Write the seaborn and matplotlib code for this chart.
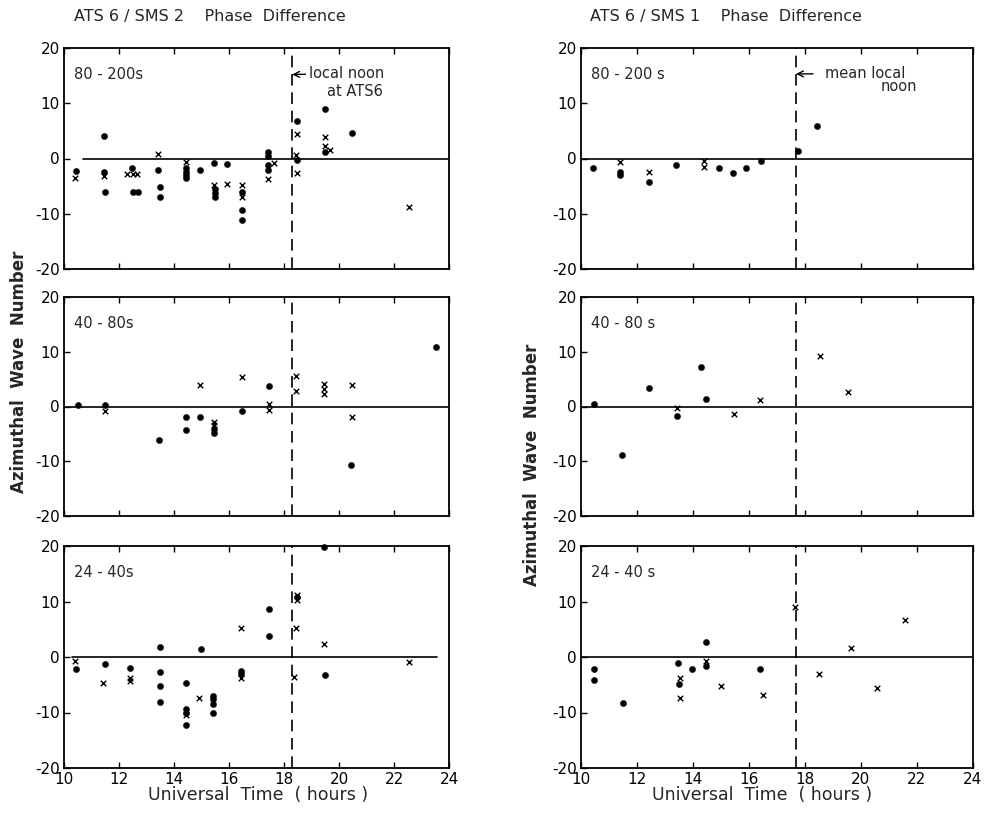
import numpy as np
import pandas as pd
import matplotlib
matplotlib.use("Agg")
import matplotlib.pyplot as plt
import seaborn as sns

# ---------------- data ----------------
# ATS6/SMS2 80-200 s
l1_dot_x = [10.45, 11.45, 11.45, 11.5, 12.46, 12.5, 12.7, 13.43, 13.5, 13.5, 14.45, 14.45, 14.45, 14.45,
            14.95, 15.45, 15.5, 15.5, 15.5, 15.94, 16.48, 16.48, 16.48, 17.43, 17.43, 17.43, 17.43,
            18.46, 18.48, 19.48, 19.48, 20.48]
l1_dot_y = [-2.2, 4.0, -2.4, -6.1, -1.7, -6.0, -6.0, -2.0, -5.1, -7.0, -1.8, -2.4, -3.0, -3.6,
            -2.0, -0.9, -5.5, -6.3, -7.0, -1.0, -6.1, -9.3, -11.1, 1.2, 0.5, -1.1, -2.0,
            6.7, -0.3, 9.0, 1.2, 4.6]
l1_crs_x = [10.4, 11.45, 12.3, 12.5, 12.65, 13.43, 14.42, 15.45, 15.94, 16.46, 16.46, 17.64, 17.43,
            18.46, 18.45, 18.46, 19.48, 19.48, 19.66, 22.55]
l1_crs_y = [-3.5, -3.1, -2.8, -2.8, -2.8, 0.8, -0.6, -4.8, -4.6, -4.8, -7.0, -0.8, -3.7,
            4.4, 0.6, -2.7, 3.9, 2.3, 1.5, -8.7]

# ATS6/SMS2 40-80 s
l2_dot_x = [10.52, 11.49, 13.45, 14.44, 14.44, 14.95, 15.45, 15.45, 16.46, 17.45, 20.45, 23.54]
l2_dot_y = [0.2, 0.2, -6.1, -1.9, -4.3, -2.0, -4.2, -4.8, -0.9, 3.7, -10.7, 10.9]
l2_crs_x = [11.49, 14.95, 15.45, 15.45, 16.46, 17.47, 17.47, 18.45, 18.45, 19.45, 19.45, 19.45, 20.48, 20.48]
l2_crs_y = [-0.9, 3.9, -2.8, -3.4, 5.4, 0.5, -0.7, 5.5, 2.9, 4.1, 3.2, 2.3, 3.9, -1.9]

# ATS6/SMS2 24-40 s
l3_dot_x = [10.45, 11.48, 12.4, 13.48, 13.48, 13.48, 13.48, 14.43, 14.43, 14.43, 14.43, 14.98,
            15.4, 15.4, 15.4, 15.4, 16.45, 16.45, 17.46, 17.46, 18.46, 19.47, 19.5]
l3_dot_y = [-2.1, -1.35, -1.9, 1.75, -2.75, -5.3, -8.1, -4.6, -9.4, -10.0, -12.2, 1.5,
            -7.0, -7.5, -8.5, -10.0, -2.5, -3.0, 8.7, 3.7, 10.8, 19.8, -3.3]
l3_crs_x = [10.4, 11.42, 12.4, 12.4, 14.43, 14.9, 16.45, 16.45, 18.46, 18.46, 18.43, 18.36, 19.47, 22.55]
l3_crs_y = [-0.8, -4.6, -3.7, -4.3, -10.5, -7.4, 5.2, -3.7, 11.2, 10.2, 5.2, -3.6, 2.3, -0.9]

# ATS6/SMS1 80-200 s
r1_dot_x = [10.43, 11.4, 11.4, 12.44, 13.39, 14.93, 15.44, 15.9, 16.43, 17.76, 18.44]
r1_dot_y = [-1.8, -2.4, -2.9, -4.2, -1.2, -1.8, -2.7, -1.8, -0.4, 1.3, 5.8]
r1_crs_x = [11.4, 12.44, 14.38, 14.38]
r1_crs_y = [-0.6, -2.4, -0.4, -1.6]

# ATS6/SMS1 40-80 s
r2_dot_x = [10.45, 11.45, 12.43, 13.43, 14.3, 14.45]
r2_dot_y = [0.4, -8.9, 3.4, -1.7, 7.3, 1.4]
r2_crs_x = [13.43, 15.47, 16.4, 18.52, 19.54]
r2_crs_y = [-0.3, -1.4, 1.1, 9.2, 2.7]

# ATS6/SMS1 24-40 s
r3_dot_x = [10.48, 10.48, 11.5, 13.47, 13.5, 13.95, 14.48, 14.48, 16.41]
r3_dot_y = [-2.1, -4.1, -8.2, -1.0, -4.9, -2.1, 2.7, -1.6, -2.1]
r3_crs_x = [13.53, 13.53, 14.48, 15.0, 16.51, 17.63, 18.49, 19.66, 20.58, 21.57]
r3_crs_y = [-3.7, -7.4, -0.8, -5.3, -6.9, 9.0, -3.0, 1.6, -5.6, 6.7]

panel_labels_left = ["80 - 200s", "40 - 80s", "24 - 40s"]
panel_labels_right = ["80 - 200 s", "40 - 80 s", "24 - 40 s"]
noon_left = 18.3
noon_right = 17.68
x_ticks = [10, 12, 14, 16, 18, 20, 22, 24]
y_ticks = [-20, -10, 0, 10, 20]

# ---------------- styling ----------------
sns.set_style("white")
plt.rcParams["font.family"] = ["DejaVu Sans"]
plt.rcParams["axes.unicode_minus"] = False

fig = plt.figure(figsize=(9.86, 8.16), dpi=100)

W, H = 986.0, 816.0
cols = [(64, 449), (581, 973)]
rows = [(48, 269), (297, 516), (546, 768)]

panels = {
    (0, 0): (l1_dot_x, l1_dot_y, l1_crs_x, l1_crs_y),
    (1, 0): (l2_dot_x, l2_dot_y, l2_crs_x, l2_crs_y),
    (2, 0): (l3_dot_x, l3_dot_y, l3_crs_x, l3_crs_y),
    (0, 1): (r1_dot_x, r1_dot_y, r1_crs_x, r1_crs_y),
    (1, 1): (r2_dot_x, r2_dot_y, r2_crs_x, r2_crs_y),
    (2, 1): (r3_dot_x, r3_dot_y, r3_crs_x, r3_crs_y),
}
zero_extent = {(0, 0): (0.05, 1.0), (1, 0): (0.0, 1.0), (2, 0): (0.02, 0.97),
               (0, 1): (0.0, 1.0), (1, 1): (0.0, 1.0), (2, 1): (0.0, 1.0)}

axes = {}
for (r, c), (dx, dy, cx, cy) in panels.items():
    x0, x1 = cols[c]
    y0, y1 = rows[r]
    ax = fig.add_axes([x0 / W, 1 - y1 / H, (x1 - x0) / W, (y1 - y0) / H])
    axes[(r, c)] = ax
    dots = pd.DataFrame({"t": dx, "m": dy})
    crs = pd.DataFrame({"t": cx, "m": cy})
    sns.scatterplot(data=dots, x="t", y="m", ax=ax, marker="o", s=20, color="black",
                    edgecolor="black", linewidth=0.3, zorder=4, clip_on=False)
    sns.scatterplot(data=crs, x="t", y="m", ax=ax, marker="x", s=16, color="black",
                    linewidth=1.0, zorder=4)
    ax.set_xlim(10, 24)
    ax.set_ylim(-20, 20)
    ax.set_xticks(x_ticks)
    ax.set_yticks(y_ticks)
    ax.set_xlabel("")
    ax.set_ylabel("")
    for sp in ax.spines.values():
        sp.set_color("black")
        sp.set_linewidth(1.3)
    ax.tick_params(axis="x", direction="in", top=True, bottom=True, length=4, width=1,
                   labelsize=11, pad=3, colors="black")
    ax.tick_params(axis="y", direction="in", left=True, right=False, length=4, width=1,
                   labelsize=11, pad=3, colors="black")
    if r < 2:
        ax.set_xticklabels([])
    zx0, zx1 = zero_extent[(r, c)]
    ax.axhline(0, xmin=zx0, xmax=zx1, color="black", lw=1.2, zorder=2)
    noon = noon_left if c == 0 else noon_right
    ax.axvline(noon, color="black", lw=1.2, ls=(0, (7, 4)), zorder=3)
    lab = panel_labels_left[r] if c == 0 else panel_labels_right[r]
    ax.text(0.026, 0.88, lab, transform=ax.transAxes, fontsize=10.5, va="center", ha="left")

# annotations
axL = axes[(0, 0)]
axL.annotate("local noon", xy=(noon_left, 15.2), xytext=(18.9, 15.4), fontsize=10.5,
             va="center", ha="left",
             arrowprops=dict(arrowstyle="->", color="black", lw=1, shrinkA=0, shrinkB=0))
axL.text(19.55, 12.2, "at ATS6", fontsize=10.5, va="center", ha="left")

axR = axes[(0, 1)]
axR.annotate("mean local", xy=(noon_right, 15.3), xytext=(18.7, 15.4), fontsize=10.5,
             va="center", ha="left",
             arrowprops=dict(arrowstyle="->", color="black", lw=1, shrinkA=6, shrinkB=0))
axR.text(21.35, 13.0, "noon", fontsize=10.5, va="center", ha="center")

# titles
fig.text(74 / W, 1 - 16 / H, "ATS 6 / SMS 2    Phase  Difference", fontsize=11.5,
         ha="left", va="center")
fig.text(590 / W, 1 - 16 / H, "ATS 6 / SMS 1    Phase  Difference", fontsize=11.5,
         ha="left", va="center")

# axis labels
fig.text(19 / W, 1 - 372 / H, "Azimuthal  Wave  Number", rotation=90, fontsize=12,
         fontweight="bold", ha="center", va="center")
fig.text(532 / W, 1 - 465 / H, "Azimuthal  Wave  Number", rotation=90, fontsize=12,
         fontweight="bold", ha="center", va="center")
fig.text(258 / W, 1 - 795 / H, "Universal  Time  ( hours )", fontsize=12.5,
         ha="center", va="center")
fig.text(762 / W, 1 - 795 / H, "Universal  Time  ( hours )", fontsize=12.5,
         ha="center", va="center")

fig.savefig("out.png", dpi=100)
